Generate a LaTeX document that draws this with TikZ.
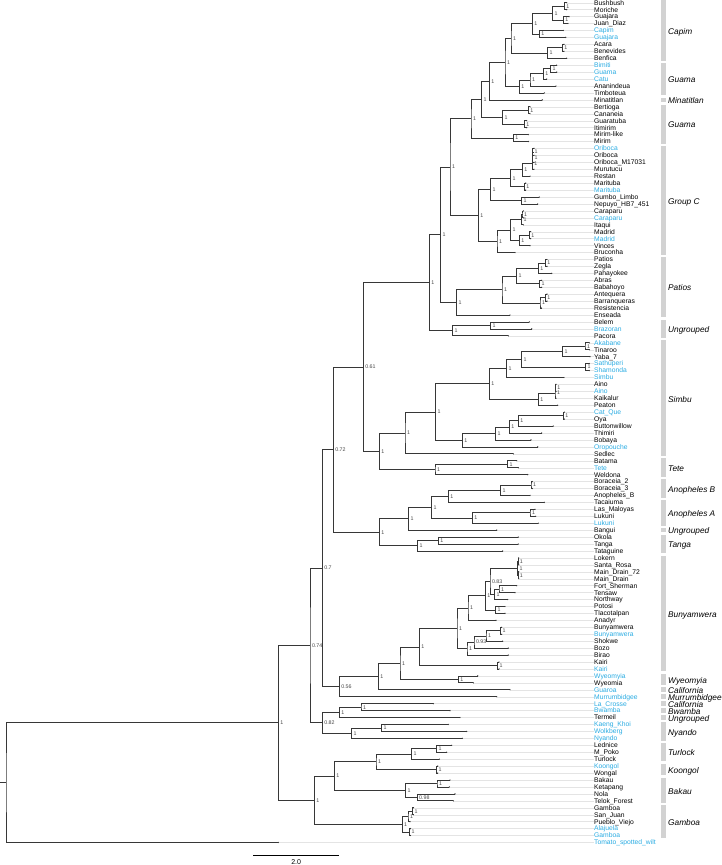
\documentclass[tikz,border=0pt]{standalone}
\usepackage{fontspec}
\setmainfont{Liberation Sans}
\usetikzlibrary{calc}
\definecolor{tipblue}{RGB}{41,171,226}
\definecolor{branch}{RGB}{55,55,55}
\definecolor{barc}{RGB}{210,210,210}
\definecolor{leadc}{RGB}{228,228,228}
\definecolor{nlabc}{RGB}{70,70,70}
\tikzset{
 br/.style={draw=branch, line width=0.7pt},
 leader/.style={draw=leadc, line width=0.35pt},
 tiplab/.style={anchor=west, inner sep=0pt, font=\fontsize{6.75}{7}\selectfont, text height=4.8pt, text depth=0pt},
 nlab/.style={anchor=west, inner sep=0pt, xshift=1.8pt, font=\fontsize{5.3}{6}\selectfont, text=nlabc, text height=3.8pt, text depth=0pt},
 cladelab/.style={anchor=west, inner sep=0pt, font=\fontsize{8.3}{9}\selectfont\itshape, text height=5.9pt, text depth=0pt},
 sbar/.style={draw=black, line width=0.7pt},
 sblab/.style={font=\fontsize{7}{8}\selectfont, inner sep=0pt, text height=5pt, text depth=0pt}
}
\newcommand\TY[1]{-(2.7+(#1-1)*6.94)}
\newcommand\tip[5]{%
 \coordinate (#1) at (#3,{\TY{#2}});
 \node[tiplab,text=#5] (L#1) at (594,{\TY{#2}}) {#4};
 \draw[leader] (#1) -- (L#1.west);
 \fill[branch] (#1) circle (0.7);
}
\newcommand\inode[5]{%
 \path let \p1=(#3), \p2=(#4) in coordinate (#1) at (#2,{0.5*(\y1+\y2)});
 \draw[br] (#3) -| (#1) |- (#4);
 \node[nlab] (#1l) at (#1) {#5};
}
\newcommand\inodeN[4]{%
 \path let \p1=(#3), \p2=(#4) in coordinate (#1) at (#2,{0.5*(\y1+\y2)});
 \draw[br] (#3) -| (#1) |- (#4);
}
\newcommand\clade[4]{%
 \fill[barc] (661,{\TY{#2}+2.3}) rectangle (666,{\TY{#3}-2.3});
 \node[cladelab] (#1) at (668,{\TY{(#2+#3)/2}-0.8}) {#4};
}
\begin{document}
\begin{tikzpicture}[x=1pt,y=1pt]
\useasboundingbox (0,0) rectangle (721,-865);
% tips
\tip{t1}{1}{566.7}{Bushbush}{black}
\tip{t2}{2}{566.7}{Moriche}{black}
\tip{t3}{3}{569}{Guajara}{black}
\tip{t4}{4}{568}{Juan\_Diaz}{black}
\tip{t5}{5}{563.3}{Capim}{tipblue}
\tip{t6}{6}{565.7}{Guajara}{tipblue}
\tip{t7}{7}{564}{Acara}{black}
\tip{t8}{8}{564}{Benevides}{black}
\tip{t9}{9}{566.7}{Benfica}{black}
\tip{t10}{10}{556.7}{Bimiti}{tipblue}
\tip{t11}{11}{556.7}{Guama}{tipblue}
\tip{t12}{12}{546.7}{Catu}{tipblue}
\tip{t13}{13}{556}{Ananindeua}{black}
\tip{t14}{14}{544.3}{Timboteua}{black}
\tip{t15}{15}{542.3}{Minatitlan}{black}
\tip{t16}{16}{530}{Bertioga}{black}
\tip{t17}{17}{530}{Cananeia}{black}
\tip{t18}{18}{526.7}{Guaratuba}{black}
\tip{t19}{19}{526.7}{Itimirim}{black}
\tip{t20}{20}{528.3}{Mirim-like}{black}
\tip{t21}{21}{528.3}{Mirim}{black}
\tip{t22}{22}{534}{Oriboca}{tipblue}
\tip{t23}{23}{534}{Oriboca}{black}
\tip{t24}{24}{534}{Oriboca\_M17031}{black}
\tip{t25}{25}{534}{Murutucu}{black}
\tip{t26}{26}{530}{Restan}{black}
\tip{t27}{27}{525.7}{Marituba}{black}
\tip{t28}{28}{525.7}{Marituba}{tipblue}
\tip{t29}{29}{539.3}{Gumbo\_Limbo}{black}
\tip{t30}{30}{537.7}{Nepuyo\_HB7\_451}{black}
\tip{t31}{31}{523.3}{Caraparu}{black}
\tip{t32}{32}{523.3}{Caraparu}{tipblue}
\tip{t33}{33}{523.3}{Itaqui}{black}
\tip{t34}{34}{530.7}{Madrid}{black}
\tip{t35}{35}{530.7}{Madrid}{tipblue}
\tip{t36}{36}{530}{Vinces}{black}
\tip{t37}{37}{515}{Bruconha}{black}
\tip{t38}{38}{547}{Patios}{black}
\tip{t39}{39}{547}{Zegla}{black}
\tip{t40}{40}{551.7}{Pahayokee}{black}
\tip{t41}{41}{541.7}{Abras}{black}
\tip{t42}{42}{541.7}{Babahoyo}{black}
\tip{t43}{43}{547}{Antequera}{black}
\tip{t44}{44}{547}{Barranqueras}{black}
\tip{t45}{45}{541.5}{Resistencia}{black}
\tip{t46}{46}{510}{Enseada}{black}
\tip{t47}{47}{529.3}{Belem}{black}
\tip{t48}{48}{531.7}{Brazoran}{tipblue}
\tip{t49}{49}{508.3}{Pacora}{black}
\tip{t50}{50}{589.3}{Akabane}{tipblue}
\tip{t51}{51}{589.3}{Tinaroo}{black}
\tip{t52}{52}{590}{Yaba\_7}{black}
\tip{t53}{53}{589.3}{Sathuperi}{tipblue}
\tip{t54}{54}{589.3}{Shamonda}{tipblue}
\tip{t55}{55}{564}{Simbu}{tipblue}
\tip{t56}{56}{556}{Aino}{black}
\tip{t57}{57}{556}{Aino}{tipblue}
\tip{t58}{58}{556}{Kaikalur}{black}
\tip{t59}{59}{557.7}{Peaton}{black}
\tip{t60}{60}{564.3}{Cat\_Que}{tipblue}
\tip{t61}{61}{564.3}{Oya}{black}
\tip{t62}{62}{553.3}{Buttonwillow}{black}
\tip{t63}{63}{541.7}{Thimiri}{black}
\tip{t64}{64}{531}{Bobaya}{black}
\tip{t65}{65}{537.7}{Oropouche}{tipblue}
\tip{t66}{66}{513.3}{Sedlec}{black}
\tip{t67}{67}{516.7}{Batama}{black}
\tip{t68}{68}{518.3}{Tete}{tipblue}
\tip{t69}{69}{527.7}{Weldona}{black}
\tip{t70}{70}{532.3}{Boraceia\_2}{black}
\tip{t71}{71}{532.3}{Boraceia\_3}{black}
\tip{t72}{72}{530}{Anopheles\_B}{black}
\tip{t73}{73}{544.3}{Tacaiuma}{black}
\tip{t74}{74}{535}{Las\_Maloyas}{black}
\tip{t75}{75}{535.7}{Lukuni}{black}
\tip{t76}{76}{538.3}{Lukuni}{tipblue}
\tip{t77}{77}{496.7}{Bangui}{black}
\tip{t78}{78}{518.3}{Okola}{black}
\tip{t79}{79}{518.3}{Tanga}{black}
\tip{t80}{80}{502.7}{Tataguine}{black}
\tip{t81}{81}{518.7}{Lokern}{black}
\tip{t82}{82}{518.7}{Santa\_Rosa}{black}
\tip{t83}{83}{518.7}{Main\_Drain\_72}{black}
\tip{t84}{84}{518.7}{Main\_Drain}{black}
\tip{t85}{85}{516.7}{Fort\_Sherman}{black}
\tip{t86}{86}{515}{Tensaw}{black}
\tip{t87}{87}{507.7}{Northway}{black}
\tip{t88}{88}{505}{Potosi}{black}
\tip{t89}{89}{505}{Tlacotalpan}{black}
\tip{t90}{90}{496}{Anadyr}{black}
\tip{t91}{91}{501.7}{Bunyamwera}{black}
\tip{t92}{92}{501.7}{Bunyamwera}{tipblue}
\tip{t93}{93}{502.7}{Shokwe}{black}
\tip{t94}{94}{508.3}{Bozo}{black}
\tip{t95}{95}{508.3}{Birao}{black}
\tip{t96}{96}{499}{Kairi}{black}
\tip{t97}{97}{499}{Kairi}{tipblue}
\tip{t98}{98}{477.7}{Wyeomyia}{tipblue}
\tip{t99}{99}{473.3}{Wyeomia}{black}
\tip{t100}{100}{510}{Guaroa}{tipblue}
\tip{t101}{101}{496.7}{Murrumbidgee}{tipblue}
\tip{t102}{102}{433.3}{La\_Crosse}{tipblue}
\tip{t103}{103}{450}{Bwamba}{tipblue}
\tip{t104}{104}{460}{Termeil}{black}
\tip{t105}{105}{448.3}{Kaeng\_Khoi}{tipblue}
\tip{t106}{106}{466.7}{Wolkberg}{tipblue}
\tip{t107}{107}{462.3}{Nyando}{tipblue}
\tip{t108}{108}{451.7}{Lednice}{black}
\tip{t109}{109}{446.7}{M\_Poko}{black}
\tip{t110}{110}{439.3}{Turlock}{black}
\tip{t111}{111}{437.7}{Koongol}{tipblue}
\tip{t112}{112}{437.7}{Wongal}{black}
\tip{t113}{113}{450}{Bakau}{black}
\tip{t114}{114}{449.3}{Ketapang}{black}
\tip{t115}{115}{455}{Nola}{black}
\tip{t116}{116}{453.3}{Telok\_Forest}{black}
\tip{t117}{117}{413.3}{Gamboa}{black}
\tip{t118}{118}{413.3}{San\_Juan}{black}
\tip{t119}{119}{410}{Pueblo\_Viejo}{black}
\tip{t120}{120}{410.5}{Alajuela}{tipblue}
\tip{t121}{121}{410.5}{Gamboa}{tipblue}
\tip{t122}{122}{278.3}{Tomato\_spotted\_wilt}{tipblue}
% Capim / Guama
\inode{c12}{564.3}{t1}{t2}{1}
\inode{c34}{563.3}{t3}{t4}{1}
\inode{c1234}{552.7}{c12}{c34}{1}
\inode{c56}{539.3}{t5}{t6}{1}
\inode{c16}{532.3}{c1234}{c56}{1}
\inode{c78}{562.3}{t7}{t8}{1}
\inode{c79}{547.7}{c78}{t9}{1}
\inode{capim}{511}{c16}{c79}{1}
\inode{g1011}{550.7}{t10}{t11}{1}
\inode{g12}{543.3}{g1011}{t12}{1}
\inode{g13}{530}{g12}{t13}{1}
\inode{guama}{519.3}{g13}{t14}{1}
\inode{cg}{505}{capim}{guama}{1}
\inode{cgm}{489.3}{cg}{t15}{1}
\inode{b1617}{528.3}{t16}{t17}{1}
\inode{b1819}{524.3}{t18}{t19}{1}
\inode{bert}{502.7}{b1617}{b1819}{1}
\inode{cgmb}{481.7}{cgm}{bert}{1}
\inode{m2021}{513.3}{t20}{t21}{1}
\inode{topc}{471}{cgmb}{m2021}{1}
% Group C
\inode{o2223}{532.7}{t22}{t23}{1}
\inode{o24}{532.5}{o2223}{t24}{1}
\inode{o25}{532.3}{o24}{t25}{1}
\inode{o26}{522.3}{o25}{t26}{1}
\inode{m2728}{524.3}{t27}{t28}{1}
\inode{o28}{510.7}{o26}{m2728}{1}
\inode{gn}{521.7}{t29}{t30}{1}
\inode{gcu}{490.7}{o28}{gn}{1}
\inode{c3132}{522}{t31}{t32}{1}
\inode{c33}{521.7}{c3132}{t33}{1}
\inode{md}{529.3}{t34}{t35}{1}
\inode{md36}{519.3}{md}{t36}{1}
\inode{c3136}{510.7}{c33}{md36}{1}
\inode{gcl}{497}{c3136}{t37}{1}
\inode{groupc}{478.3}{gcu}{gcl}{1}
\inode{x450}{450}{topc}{groupc}{1}
% Patios
\inode{p3839}{545.3}{t38}{t39}{1}
\inode{p40}{538.3}{p3839}{t40}{1}
\inode{p4142}{539.5}{t41}{t42}{1}
\inode{p4042}{516.7}{p40}{p4142}{1}
\inode{p4344}{545.3}{t43}{t44}{1}
\inode{p45}{540}{p4344}{t45}{1}
\inode{p3845}{502}{p4042}{p45}{1}
\inode{patios}{456.7}{p3845}{t46}{1}
\inode{n440}{440.7}{x450}{patios}{1}
\inode{u4748}{490.7}{t47}{t48}{1}
\inode{ung}{452.7}{u4748}{t49}{1}
\inode{n429}{429.3}{n440}{ung}{1}
% Simbu
\inode{s5051}{585}{t50}{t51}{1}
\inode{s52}{562.7}{s5051}{t52}{1}
\inode{s5354}{585.7}{t53}{t54}{1}
\inode{s5054}{521.7}{s52}{s5354}{1}
\inode{s55}{506.5}{s5054}{t55}{1}
\inode{a5657}{555.3}{t56}{t57}{1}
\inode{a58}{555}{a5657}{t58}{1}
\inode{a59}{538.3}{a58}{t59}{1}
\inode{s5059}{489.3}{s55}{a59}{1}
\inode{s6061}{563.3}{t60}{t61}{1}
\inode{s62}{518.3}{s6061}{t62}{1}
\inode{s63}{509.3}{s62}{t63}{1}
\inode{s64}{495.7}{s63}{t64}{1}
\inode{s65}{462.3}{s64}{t65}{1}
\inode{s5065}{435.7}{s5059}{s65}{1}
\inode{s66}{405}{s5065}{t66}{1}
\inode{t6768}{507.7}{t67}{t68}{1}
\inode{tete}{435}{t6768}{t69}{1}
\inode{simbu}{379.3}{s66}{tete}{1}
\inode{n061}{363.3}{n429}{simbu}{0.61}
% Anopheles / Tanga
\inode{a7071}{531}{t70}{t71}{1}
\inode{a72}{500.7}{a7071}{t72}{1}
\inode{a73}{448.3}{a72}{t73}{1}
\inode{a7475}{530}{t74}{t75}{1}
\inode{a76}{472.3}{a7475}{t76}{1}
\inode{a7376}{431.7}{a73}{a76}{1}
\inode{a77}{408.5}{a7376}{t77}{1}
\inode{k7879}{438.3}{t78}{t79}{1}
\inode{tanga}{417.7}{k7879}{t80}{1}
\inode{n379}{379.3}{a77}{tanga}{1}
\inode{n072}{333.3}{n061}{n379}{0.72}
% Bunyamwera
\inode{b8182}{517.9}{t81}{t82}{1}
\inode{b8384}{517.9}{t83}{t84}{1}
\inode{b8184}{517.5}{b8182}{b8384}{1}
\inode{b8586}{499}{t85}{t86}{1}
\inode{b87}{494.5}{b8586}{t87}{1}
\inode{b083}{490}{b8184}{b87}{0.83}
\inode{b8889}{495.5}{t88}{t89}{1}
\inode{b8389}{485.3}{b083}{b8889}{1}
\inode{b90}{468}{b8389}{t90}{1}
\inode{b9192}{500.7}{t91}{t92}{1}
\inode{b93}{486}{b9192}{t93}{1}
\inode{b94}{474}{b93}{t94}{0.93}
\inode{b95}{467}{b94}{t95}{1}
\inode{b8195}{457}{b90}{b95}{1}
\inode{k9697}{497.7}{t96}{t97}{1}
\inode{b97}{419.3}{b8195}{k9697}{1}
\inode{w9899}{458.3}{t98}{t99}{1}
\inode{b99}{400}{b97}{w9899}{1}
\inode{b100}{378.3}{b99}{t100}{1}
\inode{n056}{339.3}{b100}{t101}{0.56}
\inode{n07}{322.3}{n072}{n056}{0.7}
\inode{lb}{361}{t102}{t103}{1}
\inode{lbt}{339.3}{lb}{t104}{1}
\inode{kw}{381.7}{t105}{t106}{1}
\inode{kwn}{351.7}{kw}{t107}{1}
\inode{n082}{322.3}{lbt}{kwn}{0.82}
\inode{n074}{310}{n07}{n082}{0.74}
% Turlock / Koongol / Bakau / Gamboa
\inode{l108}{436.5}{t108}{t109}{1}
\inode{turl}{411.7}{l108}{t110}{1}
\inode{koon}{436.7}{t111}{t112}{1}
\inode{tk}{376}{turl}{koon}{1}
\inode{bk}{437}{t113}{t114}{1}
\inode{nt}{417.2}{t115}{t116}{0.98}
\inode{bakau}{405.5}{bk}{nt}{1}
\inode{tkb}{334.3}{tk}{bakau}{1}
\inode{g117}{412.7}{t117}{t118}{1}
\inode{g119}{408}{g117}{t119}{1}
\inode{g120}{409.5}{t120}{t121}{1}
\inode{gamboa}{402.2}{g119}{g120}{1}
\inode{lower}{314.3}{tkb}{gamboa}{1}
\inode{nA}{278.3}{n074}{lower}{1}
% root
\inodeN{root}{6}{nA}{t122}
\path let \p1=(root) in coordinate (rootstub) at (0,\y1);
\draw[br] (rootstub) -- (root);
% clade bars
\clade{clCapim}{1}{9}{Capim}
\clade{clGuama1}{10}{14}{Guama}
\clade{clMinat}{15}{15}{Minatitlan}
\clade{clGuama2}{16}{21}{Guama}
\clade{clGroupC}{22}{37}{Group C}
\clade{clPatios}{38}{46}{Patios}
\clade{clUng1}{47}{49}{Ungrouped}
\clade{clSimbu}{50}{66}{Simbu}
\clade{clTete}{67}{69}{Tete}
\clade{clAnoB}{70}{72}{Anopheles B}
\clade{clAnoA}{73}{76}{Anopheles A}
\clade{clUng2}{77}{77}{Ungrouped}
\clade{clTanga}{78}{80}{Tanga}
\clade{clBunya}{81}{97}{Bunyamwera}
\clade{clWyeo}{98}{99}{Wyeomyia}
\clade{clCal1}{100}{100}{California}
\clade{clMurr}{101}{101}{Murrumbidgee}
\clade{clCal2}{102}{102}{California}
\clade{clBwam}{103}{103}{Bwamba}
\clade{clUng3}{104}{104}{Ungrouped}
\clade{clNyando}{105}{107}{Nyando}
\clade{clTurl}{108}{110}{Turlock}
\clade{clKoon}{111}{112}{Koongol}
\clade{clBakau}{113}{116}{Bakau}
\clade{clGamboa}{117}{121}{Gamboa}
% scale bar
\coordinate (sb1) at (253.3,-855.7);
\coordinate (sb2) at (339,-855.7);
\draw[sbar] (sb1) -- (sb2);
\node[sblab] (sbl) at (296.2,-862.3) {2.0};
\end{tikzpicture}
\end{document}
